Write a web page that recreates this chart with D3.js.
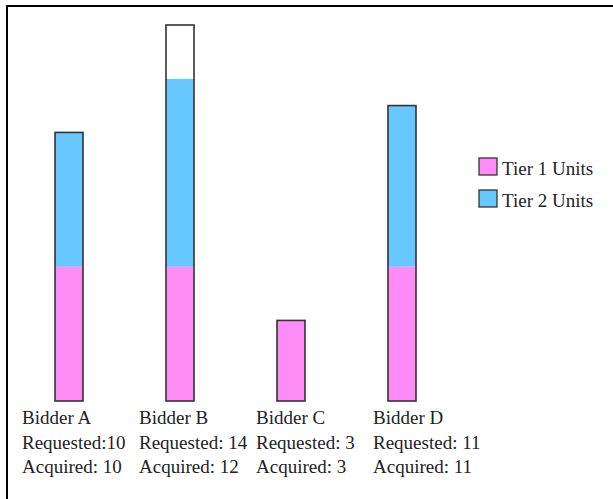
<!DOCTYPE html>
<html>
<head>
<meta charset="utf-8">
<script src="https://cdn.jsdelivr.net/npm/d3@7"></script>
<style>
	body { margin: 0; background: #fff; }
</style>
</head>
<body>
<svg id="chart"></svg>
<script>
const WIDTH = 613;
const HEIGHT = 499;
const FONT = "'Liberation Serif', 'DejaVu Serif', 'Times New Roman', Times, serif";

// data
const bidders = ["Bidder A", "Bidder B", "Bidder C", "Bidder D"];
const tier1 = [5, 5, 3, 5];
const tier2 = [5, 7, 0, 6];
const requested = [10, 14, 3, 11];
const acquired = [10, 12, 3, 11];
const legendLabels = ["Tier 1 Units", "Tier 2 Units"];

const COLORS = { tier1: "#ff8cf6", tier2: "#66c8ff", unfilled: "#ffffff" };

const svg = d3.select("#chart").attr("width", WIDTH).attr("height", HEIGHT);

// frame: only top and left edges show in the picture
svg.append("line").attr("x1", 7).attr("x2", WIDTH).attr("y1", 6).attr("y2", 6)
	.attr("stroke", "#000").attr("stroke-width", 2);
svg.append("line").attr("x1", 7).attr("x2", 7).attr("y1", 5).attr("y2", HEIGHT)
	.attr("stroke", "#000").attr("stroke-width", 2);

const BAR_W = 28;
const xScale = d3.scalePoint(bidders, [69, 402]);
const labelScale = d3.scalePoint(bidders, [22, 373]);
const yScale = d3.scaleLinear([0, 14], [401, 25]);

const stackData = bidders.map((b, i) => ({
	bidder: b,
	tier1: tier1[i],
	tier2: tier2[i],
	unfilled: requested[i] - acquired[i],
}));
const series = d3.stack().keys(["tier1", "tier2", "unfilled"])(stackData);

const bars = svg.append("g");
series.forEach(s => {
	bars.selectAll(null)
		.data(s.filter(d => d[1] > d[0]))
		.join("rect")
		.attr("x", d => xScale(d.data.bidder) - BAR_W / 2)
		.attr("width", BAR_W)
		.attr("y", d => yScale(d[1]))
		.attr("height", d => yScale(d[0]) - yScale(d[1]))
		.attr("fill", COLORS[s.key]);
});
// outline around each whole bar
bars.selectAll(".outline")
	.data(stackData)
	.join("rect")
	.attr("class", "outline")
	.attr("x", d => xScale(d.bidder) - BAR_W / 2)
	.attr("width", BAR_W)
	.attr("y", (d, i) => yScale(requested[i]))
	.attr("height", (d, i) => yScale(0) - yScale(requested[i]))
	.attr("fill", "none")
	.attr("stroke", "#333")
	.attr("stroke-width", 1.6);

// labels under bars
const labels = svg.append("g")
	.attr("font-family", FONT)
	.attr("font-size", 19)
	.attr("fill", "#222");
bidders.forEach((b, i) => {
	const lines = [b, `Requested:${i === 0 ? "" : " "}${requested[i]}`, `Acquired: ${acquired[i]}`];
	labels.selectAll(null)
		.data(lines)
		.join("text")
		.attr("x", labelScale(b))
		.attr("y", (d, j) => 424 + j * 24.5)
		.text(d => d);
});

// legend
const legend = svg.append("g").attr("transform", "translate(479,158)");
const legendColors = [COLORS.tier1, COLORS.tier2];
legendLabels.forEach((label, i) => {
	const g = legend.append("g").attr("transform", `translate(0,${i * 32})`);
	g.append("rect").attr("width", 18).attr("height", 17)
		.attr("fill", legendColors[i]).attr("stroke", "#333").attr("stroke-width", 1.3);
	g.append("text").attr("x", 23).attr("y", 17)
		.attr("font-family", FONT).attr("font-size", 19).attr("fill", "#222")
		.text(label);
});
</script>
</body>
</html>
